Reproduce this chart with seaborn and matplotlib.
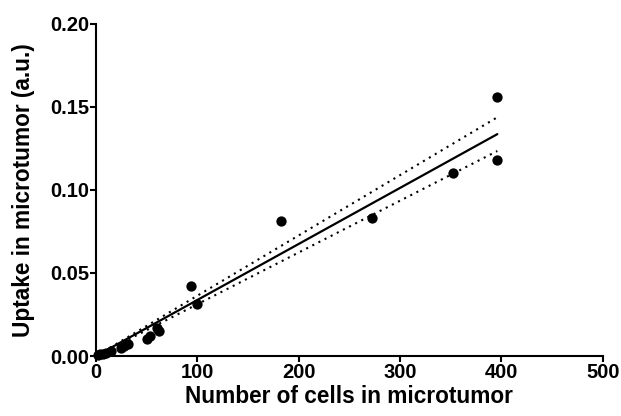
import numpy as np
import pandas as pd
import seaborn as sns
import matplotlib.pyplot as plt

# values
cells = [2, 4, 7, 10, 15, 25, 28, 32, 50, 53, 60, 62, 94, 100, 183, 272, 352, 396, 396]
uptake = [0.0005, 0.001, 0.0015, 0.002, 0.003, 0.005, 0.006, 0.007, 0.010, 0.012,
          0.017, 0.015, 0.042, 0.031, 0.081, 0.083, 0.110, 0.156, 0.118]
x_ticks = [0, 100, 200, 300, 400, 500]
y_ticks = [0.00, 0.05, 0.10, 0.15, 0.20]

df = pd.DataFrame({"cells": cells, "uptake": uptake})

# linear fit through the origin + 95% confidence band of the line
x = df["cells"].to_numpy(float)
y = df["uptake"].to_numpy(float)
n = len(x)
slope = np.sum(x * y) / np.sum(x ** 2)
xs = np.linspace(x.min(), x.max(), 200)
fit = slope * xs
resid = y - slope * x
s = np.sqrt(np.sum(resid ** 2) / (n - 1))
se = s * np.abs(xs) / np.sqrt(np.sum(x ** 2))
t = 2.10
band = pd.DataFrame({"cells": xs, "fit": fit, "lo": fit - t * se, "hi": fit + t * se})

sns.set_style("ticks")
plt.rcParams["font.family"] = ["Liberation Sans", "DejaVu Sans"]
plt.rcParams["font.weight"] = "bold"

fig = plt.figure(figsize=(6.21, 4.16), dpi=100)
ax = fig.add_axes([0.1546, 0.1442, 0.816, 0.799])

sns.lineplot(data=band, x="cells", y="fit", color="black", lw=1.6, ax=ax)
sns.lineplot(data=band, x="cells", y="hi", color="black", lw=1.5, ax=ax, linestyle=(0, (1, 2.3)))
sns.lineplot(data=band, x="cells", y="lo", color="black", lw=1.5, ax=ax, linestyle=(0, (1, 2.3)))
sns.scatterplot(data=df, x="cells", y="uptake", color="black", s=55, edgecolor="black",
                linewidth=0, ax=ax, zorder=3, clip_on=False)

ax.set_xlim(0, 500)
ax.set_ylim(0, 0.20)
ax.set_xticks(x_ticks)
ax.set_yticks(y_ticks)
ax.set_yticklabels([f"{v:.2f}" for v in y_ticks])
ax.set_xlabel("Number of cells in microtumor", fontsize=16.3, fontweight="bold",
              labelpad=2, color="black")
ax.set_ylabel("Uptake in microtumor (a.u.)", fontsize=16.3, fontweight="bold",
              labelpad=11, color="black")
ax.tick_params(labelsize=14.5, width=1.5, length=4, direction="out", pad=1,
               color="black", labelcolor="black")
for lab in ax.get_xticklabels() + ax.get_yticklabels():
    lab.set_fontweight("bold")
for sp in ["left", "bottom"]:
    ax.spines[sp].set_linewidth(1.5)
    ax.spines[sp].set_color("black")
sns.despine(ax=ax)

fig.savefig("out.png", dpi=100)
